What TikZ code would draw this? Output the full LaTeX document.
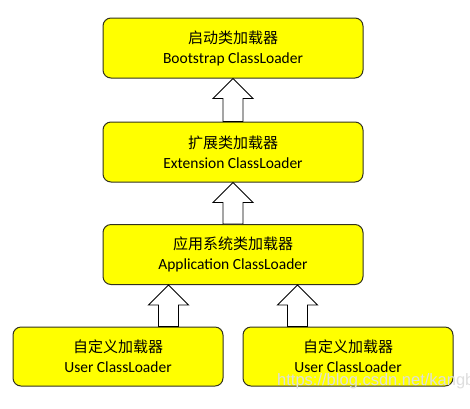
\documentclass[tikz,border=0pt]{standalone}
\usepackage{fontspec}
\setmainfont{Carlito}
\newfontfamily\cjk{Noto Sans CJK SC}
\newfontfamily\wmfont{Liberation Sans}
\usetikzlibrary{calc}
\definecolor{boxfill}{RGB}{255,255,0}
\definecolor{boxline}{RGB}{50,50,30}
\definecolor{wmgray}{RGB}{222,222,222}
\tikzset{
  loaderbox/.style={draw=boxline, line width=1pt, fill=boxfill, rounded corners=8pt,
    align=center, inner sep=0pt, font=\fontsize{15.5}{20}\selectfont},
  bigbox/.style={loaderbox, minimum width=260pt, minimum height=60pt},
  userbox/.style={loaderbox, minimum width=210pt, minimum height=59pt},
  barrow/.style={draw=black, line width=0.9pt, fill=white, line join=miter},
  watermark/.style={text=wmgray, font=\wmfont\fontsize{16.5}{18}\selectfont, anchor=west, inner sep=0pt}
}
\newcommand\blockarr[2]{%
  \draw[barrow] (#1) -- ($(#1)+(20,20)$) -- ($(#1)+(10,20)$) -- ($(#2)+(10,0)$)
    -- ($(#2)+(-10,0)$) -- ($(#1)+(-10,20)$) -- ($(#1)+(-20,20)$) -- cycle;}
\begin{document}
\begin{tikzpicture}[x=1pt,y=-1pt]
\useasboundingbox (0,0) rectangle (470,408);
\fill[white] (0,0) rectangle (470,408);
\node[bigbox] (boot) at (233,48) {{\cjk\fontsize{15}{20}\selectfont 启动类加载器}\\Bootstrap ClassLoader};
\node[bigbox] (ext) at (233,152) {{\cjk\fontsize{15}{20}\selectfont 扩展类加载器}\\Extension ClassLoader};
\node[bigbox] (app) at (233,254.5) {{\cjk\fontsize{15}{20}\selectfont 应用系统类加载器}\\Application ClassLoader};
\node[userbox] (user1) at (118,356.5) {{\cjk\fontsize{15}{20}\selectfont 自定义加载器}\\User ClassLoader};
\node[userbox] (user2) at (348,356.5) {{\cjk\fontsize{15}{20}\selectfont 自定义加载器}\\User ClassLoader};
\path (boot.south) coordinate (t1) (ext.north) coordinate (b1);
\path (ext.south) coordinate (t2) (app.north) coordinate (b2);
\path ($(app.south west)+(66,0)$) coordinate (t3) (t3 |- user1.north) coordinate (b3);
\path ($(app.south east)+(-66,0)$) coordinate (t4) (t4 |- user2.north) coordinate (b4);
\blockarr{t1}{b1}
\blockarr{t2}{b2}
\blockarr{t3}{b3}
\blockarr{t4}{b4}
\begin{scope}
\clip (0,0) rectangle (470,408);
\node[watermark] (wm) at (277,381) {https://blog.csdn.net/kangbi};
\end{scope}
\end{tikzpicture}
\end{document}
